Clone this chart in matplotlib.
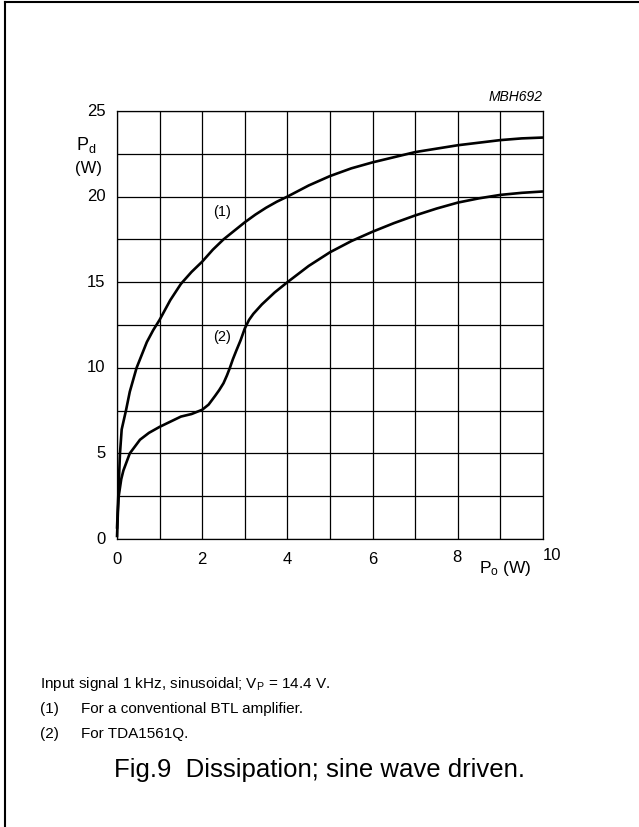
import matplotlib
matplotlib.use('Agg')
import matplotlib.pyplot as plt
from matplotlib.lines import Line2D

plt.rcParams['font.family'] = 'Liberation Sans'
plt.rcParams['mathtext.fontset'] = 'custom'
plt.rcParams['mathtext.rm'] = 'Liberation Sans'
plt.rcParams['mathtext.it'] = 'Liberation Sans:italic'

# curve (1): conventional BTL amplifier
po_1 = [0.0, 0.03, 0.07, 0.11, 0.21, 0.3, 0.46, 0.7, 0.85, 1.0, 1.25, 1.5,
        1.75, 2.0, 2.25, 2.5, 2.75, 3.0, 3.25, 3.5, 3.75, 4.0, 4.5, 5.0,
        5.5, 6.0, 6.5, 7.0, 7.5, 8.0, 8.5, 9.0, 9.5, 10.0]
pd_1 = [0.6, 2.5, 5.0, 6.4, 7.5, 8.6, 10.0, 11.5, 12.2, 12.8, 13.95, 14.9,
        15.6, 16.2, 16.9, 17.5, 18.0, 18.5, 18.95, 19.35, 19.7, 20.0, 20.65,
        21.2, 21.65, 22.0, 22.3, 22.6, 22.8, 23.0, 23.15, 23.3, 23.4, 23.45]

# curve (2): TDA1561Q
po_2 = [0.0, 0.02, 0.04, 0.1, 0.15, 0.3, 0.54, 0.75, 1.0, 1.25, 1.5, 1.75,
        2.0, 2.15, 2.3, 2.4, 2.5, 2.58, 2.65, 2.72, 2.8, 2.9, 3.0, 3.1, 3.2,
        3.4, 3.7, 4.0, 4.5, 5.0, 5.5, 6.0, 6.5, 7.0, 7.5, 8.0, 8.5, 9.0,
        9.5, 10.0]
pd_2 = [0.1, 1.5, 2.5, 3.5, 4.0, 5.0, 5.8, 6.2, 6.55, 6.85, 7.15, 7.3,
        7.55, 7.85, 8.35, 8.7, 9.1, 9.55, 10.0, 10.5, 11.0, 11.6, 12.3, 12.8,
        13.15, 13.7, 14.4, 15.0, 15.95, 16.75, 17.4, 17.95, 18.45, 18.9,
        19.3, 19.65, 19.9, 20.1, 20.22, 20.3]

x_ticks = [0, 2, 4, 6, 8, 10]
y_ticks = [0, 5, 10, 15, 20, 25]

W, H = 639, 827
fig = plt.figure(figsize=(W / 100, H / 100), dpi=100)


def fx(px):
    return px / W


def fy(py):
    return 1 - py / H


ax = fig.add_axes([fx(117), fy(539), fx(543) - fx(117), fy(111) - fy(539)])
ax.set_xlim(0, 10)
ax.set_ylim(0, 25)

# grid: every 1 W horizontally, every 2.5 W vertically
for v in range(11):
    ax.axvline(v, color='black', lw=0.9, zorder=1)
for k in range(11):
    ax.axhline(k * 2.5, color='black', lw=0.9, zorder=1)
for s in ax.spines.values():
    s.set_linewidth(0.9)

ax.plot(po_1, pd_1, color='black', lw=1.9, zorder=3,
        solid_capstyle='butt', clip_on=False)
ax.plot(po_2, pd_2, color='black', lw=1.9, zorder=3,
        solid_capstyle='butt', clip_on=False)

ax.set_xticks(x_ticks)
ax.set_yticks(y_ticks)
ax.set_xticklabels([])
ax.set_yticklabels([])
ax.tick_params(length=0)

fs = 12
for t in x_ticks:
    if t == 10:
        fig.text(fx(552), fy(556), '10', ha='center', va='center', fontsize=fs)
    elif t == 8:
        fig.text(fx(457), fy(558), '8', ha='center', va='center', fontsize=fs)
    else:
        ax.text(t, -1.17, str(t), ha='center', va='center', fontsize=fs)
for t in y_ticks:
    ax.text(-0.27, t, str(t), ha='right', va='center', fontsize=fs)

ax.text(2.46, 19.1, '(1)', ha='center', va='center', fontsize=10.5)
ax.text(2.46, 11.8, '(2)', ha='center', va='center', fontsize=10.5)

fig.text(fx(543), fy(97), 'MBH692', ha='right', va='center',
         fontsize=10, style='italic')
fig.text(fx(86), fy(145), r'P$_\mathrm{d}$', ha='center', va='center',
         fontsize=13)
fig.text(fx(88), fy(168), '(W)', ha='center', va='center', fontsize=12)
fig.text(fx(505), fy(569), r'P$_\mathrm{o}$ (W)', ha='center', va='center',
         fontsize=12.5)

fn = 11
fig.text(fx(40), fy(684), r'Input signal 1 kHz, sinusoidal; V$_\mathrm{P}$ = 14.4 V.',
         ha='left', va='center', fontsize=fn)
fig.text(fx(40), fy(709), '(1)', ha='left', va='center', fontsize=fn)
fig.text(fx(81), fy(709), 'For a conventional BTL amplifier.', ha='left',
         va='center', fontsize=fn)
fig.text(fx(40), fy(734), '(2)', ha='left', va='center', fontsize=fn)
fig.text(fx(81), fy(734), 'For TDA1561Q.', ha='left', va='center', fontsize=fn)
fig.text(fx(320), fy(770), 'Fig.9  Dissipation; sine wave driven.',
         ha='center', va='center', fontsize=18.5)

# page frame (top and left edges)
fig.add_artist(Line2D([fx(4.5), 1], [fy(1.5), fy(1.5)], color='black', lw=1.5))
fig.add_artist(Line2D([fx(4.5), fx(4.5)], [fy(1.5), 0], color='black', lw=1.5))

fig.savefig('out.png', dpi=100)
